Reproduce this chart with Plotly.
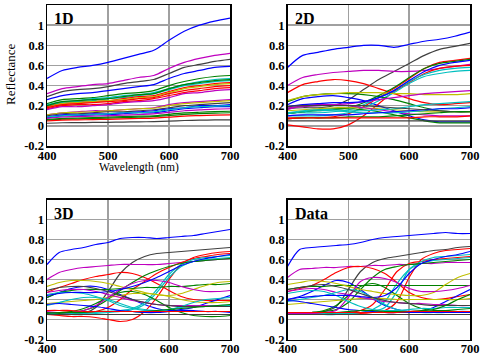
import plotly.graph_objects as go

# MATLAB classic colour order
B, G, R, C, M, Y, K = "#0000ff", "#008000", "#ff0000", "#00bfbf", "#bf00bf", "#bfbf00", "#404040"

# ---------------- 1D panel (25 nm grid) ----------------
wl_1d = [400, 425, 450, 475, 500, 525, 550, 575, 600, 625, 650, 675, 700]
colors_1d = [B, M, K, B, G, C, C, R, Y, R, R, M, M, Y, K, B, B, C, G, G, R, K, M, G]
refl_1d = [
    [0.47, 0.55, 0.58, 0.60, 0.63, 0.67, 0.71, 0.75, 0.85, 0.94, 1.00, 1.04, 1.07],
    [0.32, 0.37, 0.39, 0.41, 0.42, 0.45, 0.48, 0.50, 0.57, 0.63, 0.67, 0.70, 0.72],
    [0.29, 0.34, 0.36, 0.37, 0.39, 0.42, 0.44, 0.46, 0.52, 0.58, 0.61, 0.64, 0.66],
    [0.26, 0.30, 0.32, 0.33, 0.35, 0.37, 0.39, 0.41, 0.47, 0.52, 0.55, 0.58, 0.59],
    [0.22, 0.26, 0.27, 0.28, 0.30, 0.32, 0.33, 0.35, 0.40, 0.44, 0.47, 0.49, 0.50],
    [0.21, 0.24, 0.25, 0.27, 0.28, 0.30, 0.31, 0.33, 0.37, 0.41, 0.44, 0.46, 0.47],
    [0.20, 0.23, 0.24, 0.25, 0.27, 0.28, 0.30, 0.32, 0.36, 0.40, 0.42, 0.44, 0.45],
    [0.19, 0.22, 0.23, 0.24, 0.25, 0.27, 0.29, 0.30, 0.34, 0.38, 0.40, 0.42, 0.43],
    [0.18, 0.22, 0.23, 0.24, 0.25, 0.26, 0.28, 0.29, 0.33, 0.37, 0.39, 0.41, 0.42],
    [0.18, 0.21, 0.22, 0.23, 0.24, 0.25, 0.27, 0.28, 0.32, 0.35, 0.37, 0.39, 0.40],
    [0.17, 0.20, 0.21, 0.21, 0.22, 0.24, 0.25, 0.27, 0.30, 0.33, 0.35, 0.37, 0.38],
    [0.16, 0.19, 0.19, 0.20, 0.21, 0.23, 0.24, 0.25, 0.28, 0.32, 0.33, 0.35, 0.36],
    [0.11, 0.13, 0.14, 0.15, 0.15, 0.16, 0.17, 0.18, 0.21, 0.23, 0.24, 0.25, 0.26],
    [0.11, 0.13, 0.135, 0.14, 0.15, 0.16, 0.17, 0.175, 0.20, 0.22, 0.23, 0.24, 0.25],
    [0.10, 0.12, 0.12, 0.13, 0.14, 0.14, 0.15, 0.16, 0.18, 0.20, 0.21, 0.22, 0.23],
    [0.09, 0.11, 0.11, 0.12, 0.12, 0.13, 0.14, 0.15, 0.17, 0.18, 0.20, 0.20, 0.21],
    [0.08, 0.10, 0.10, 0.11, 0.11, 0.12, 0.13, 0.13, 0.15, 0.17, 0.18, 0.19, 0.19],
    [0.09, 0.10, 0.11, 0.11, 0.12, 0.13, 0.13, 0.14, 0.16, 0.18, 0.19, 0.195, 0.20],
    [0.064, 0.075, 0.078, 0.082, 0.086, 0.091, 0.096, 0.10, 0.115, 0.128, 0.135, 0.141, 0.145],
    [0.057, 0.067, 0.070, 0.073, 0.077, 0.082, 0.086, 0.091, 0.103, 0.114, 0.121, 0.127, 0.13],
    [0.048, 0.057, 0.059, 0.062, 0.065, 0.069, 0.073, 0.077, 0.087, 0.097, 0.102, 0.107, 0.11],
    [0.026, 0.031, 0.032, 0.034, 0.035, 0.038, 0.040, 0.042, 0.047, 0.053, 0.056, 0.059, 0.06],
    [0.075, 0.088, 0.092, 0.096, 0.10, 0.107, 0.113, 0.119, 0.134, 0.15, 0.158, 0.166, 0.17],
    [0.20, 0.24, 0.25, 0.26, 0.27, 0.29, 0.31, 0.32, 0.37, 0.41, 0.43, 0.45, 0.46],
]

# ---------------- 2D panel (25 nm grid) ----------------
wl_2d = [400, 425, 450, 475, 500, 525, 550, 575, 600, 625, 650, 675, 700]
colors_2d = [B, K, M, R, B, R, R, C, C, G, G, G, Y, Y, M, M, C, C, B, B, K, K, G, R]
refl_2d = [
    [0.58, 0.70, 0.73, 0.76, 0.78, 0.80, 0.80, 0.78, 0.81, 0.84, 0.86, 0.89, 0.93],
    [0.17, 0.18, 0.18, 0.20, 0.26, 0.36, 0.46, 0.54, 0.62, 0.70, 0.76, 0.79, 0.82],
    [0.40, 0.48, 0.51, 0.53, 0.54, 0.55, 0.55, 0.54, 0.54, 0.55, 0.57, 0.59, 0.61],
    [0.33, 0.41, 0.44, 0.46, 0.45, 0.42, 0.37, 0.32, 0.27, 0.23, 0.21, 0.22, 0.23],
    [0.21, 0.27, 0.29, 0.30, 0.28, 0.25, 0.20, 0.15, 0.10, 0.06, 0.04, 0.04, 0.04],
    [0.01, -0.01, -0.03, -0.03, 0.01, 0.10, 0.22, 0.34, 0.43, 0.52, 0.57, 0.59, 0.60],
    [0.08, 0.08, 0.08, 0.09, 0.12, 0.19, 0.28, 0.37, 0.47, 0.57, 0.63, 0.65, 0.67],
    [0.13, 0.13, 0.13, 0.14, 0.16, 0.21, 0.28, 0.35, 0.44, 0.51, 0.55, 0.57, 0.58],
    [0.10, 0.10, 0.10, 0.11, 0.13, 0.18, 0.25, 0.33, 0.42, 0.49, 0.52, 0.54, 0.55],
    [0.12, 0.14, 0.15, 0.16, 0.18, 0.23, 0.30, 0.38, 0.48, 0.57, 0.62, 0.64, 0.66],
    [0.12, 0.14, 0.16, 0.17, 0.17, 0.16, 0.14, 0.11, 0.08, 0.05, 0.03, 0.03, 0.03],
    [0.24, 0.29, 0.31, 0.32, 0.32, 0.31, 0.29, 0.26, 0.22, 0.18, 0.15, 0.14, 0.14],
    [0.25, 0.29, 0.31, 0.32, 0.33, 0.33, 0.33, 0.32, 0.32, 0.31, 0.31, 0.31, 0.32],
    [0.15, 0.16, 0.17, 0.18, 0.18, 0.18, 0.17, 0.16, 0.15, 0.14, 0.14, 0.14, 0.14],
    [0.18, 0.19, 0.20, 0.21, 0.22, 0.24, 0.26, 0.28, 0.30, 0.32, 0.33, 0.34, 0.35],
    [0.16, 0.20, 0.21, 0.21, 0.20, 0.18, 0.16, 0.14, 0.12, 0.11, 0.10, 0.10, 0.10],
    [0.13, 0.15, 0.16, 0.16, 0.15, 0.15, 0.16, 0.17, 0.19, 0.21, 0.22, 0.23, 0.24],
    [0.12, 0.14, 0.15, 0.15, 0.14, 0.13, 0.13, 0.13, 0.14, 0.15, 0.17, 0.18, 0.19],
    [0.19, 0.21, 0.22, 0.23, 0.23, 0.24, 0.28, 0.35, 0.45, 0.54, 0.60, 0.63, 0.65],
    [0.10, 0.11, 0.11, 0.11, 0.11, 0.12, 0.13, 0.14, 0.15, 0.16, 0.17, 0.17, 0.18],
    [0.19, 0.20, 0.20, 0.20, 0.20, 0.20, 0.19, 0.18, 0.17, 0.16, 0.15, 0.14, 0.14],
    [0.05, 0.05, 0.05, 0.05, 0.05, 0.05, 0.05, 0.05, 0.05, 0.05, 0.05, 0.05, 0.05],
    [0.07, 0.08, 0.08, 0.08, 0.09, 0.09, 0.09, 0.10, 0.11, 0.12, 0.13, 0.14, 0.14],
    [0.07, 0.08, 0.08, 0.08, 0.08, 0.08, 0.08, 0.08, 0.08, 0.09, 0.09, 0.09, 0.10],
]

# ---------------- 3D panel (20 nm grid) ----------------
wl_3d = [400, 420, 440, 460, 480, 500, 520, 540, 560, 580, 600, 620, 640, 660, 680, 700]
colors_3d = [B, K, M, R, B, R, R, C, C, G, G, G, Y, Y, M, M, C, C, B, B, K, K, G, R]
refl_3d = [
    [0.55, 0.67, 0.70, 0.72, 0.75, 0.77, 0.81, 0.82, 0.82, 0.81, 0.82, 0.83, 0.84, 0.86, 0.88, 0.90],
    [0.05, 0.05, 0.05, 0.06, 0.12, 0.28, 0.46, 0.57, 0.63, 0.66, 0.67, 0.68, 0.69, 0.70, 0.71, 0.72],
    [0.40, 0.47, 0.50, 0.52, 0.53, 0.54, 0.55, 0.55, 0.55, 0.55, 0.56, 0.57, 0.58, 0.59, 0.60, 0.61],
    [0.27, 0.32, 0.36, 0.40, 0.43, 0.45, 0.47, 0.46, 0.42, 0.36, 0.29, 0.23, 0.20, 0.19, 0.19, 0.19],
    [0.22, 0.27, 0.31, 0.33, 0.33, 0.30, 0.25, 0.20, 0.15, 0.11, 0.09, 0.10, 0.12, 0.16, 0.20, 0.24],
    [0.05, 0.04, 0.03, 0.03, 0.02, 0.00, -0.02, 0.00, 0.08, 0.22, 0.40, 0.55, 0.62, 0.65, 0.67, 0.68],
    [0.09, 0.09, 0.08, 0.07, 0.08, 0.12, 0.20, 0.30, 0.38, 0.46, 0.52, 0.57, 0.61, 0.63, 0.65, 0.66],
    [0.06, 0.06, 0.06, 0.06, 0.07, 0.08, 0.09, 0.11, 0.17, 0.30, 0.45, 0.55, 0.60, 0.62, 0.63, 0.64],
    [0.05, 0.05, 0.05, 0.05, 0.06, 0.07, 0.08, 0.10, 0.15, 0.27, 0.42, 0.53, 0.58, 0.60, 0.61, 0.62],
    [0.07, 0.07, 0.07, 0.09, 0.13, 0.20, 0.29, 0.37, 0.44, 0.49, 0.53, 0.56, 0.58, 0.59, 0.60, 0.61],
    [0.05, 0.06, 0.08, 0.11, 0.16, 0.22, 0.27, 0.28, 0.25, 0.19, 0.12, 0.07, 0.04, 0.03, 0.03, 0.04],
    [0.22, 0.27, 0.29, 0.30, 0.30, 0.30, 0.31, 0.31, 0.32, 0.32, 0.33, 0.33, 0.34, 0.35, 0.35, 0.36],
    [0.33, 0.37, 0.39, 0.39, 0.38, 0.36, 0.33, 0.30, 0.27, 0.25, 0.24, 0.26, 0.30, 0.34, 0.37, 0.38],
    [0.16, 0.17, 0.18, 0.19, 0.20, 0.22, 0.24, 0.26, 0.26, 0.25, 0.23, 0.20, 0.18, 0.17, 0.17, 0.18],
    [0.08, 0.07, 0.07, 0.09, 0.14, 0.22, 0.30, 0.36, 0.39, 0.39, 0.37, 0.33, 0.30, 0.28, 0.28, 0.29],
    [0.27, 0.29, 0.30, 0.30, 0.28, 0.25, 0.22, 0.19, 0.17, 0.15, 0.14, 0.14, 0.14, 0.14, 0.14, 0.14],
    [0.25, 0.27, 0.27, 0.26, 0.23, 0.19, 0.14, 0.11, 0.09, 0.09, 0.10, 0.12, 0.13, 0.13, 0.14, 0.14],
    [0.14, 0.17, 0.20, 0.22, 0.22, 0.20, 0.16, 0.12, 0.10, 0.09, 0.10, 0.13, 0.17, 0.20, 0.21, 0.22],
    [0.24, 0.26, 0.27, 0.27, 0.27, 0.28, 0.30, 0.33, 0.37, 0.42, 0.48, 0.54, 0.58, 0.61, 0.63, 0.65],
    [0.15, 0.16, 0.15, 0.14, 0.13, 0.11, 0.09, 0.08, 0.07, 0.07, 0.08, 0.09, 0.09, 0.08, 0.08, 0.07],
    [0.29, 0.32, 0.33, 0.33, 0.31, 0.28, 0.24, 0.20, 0.17, 0.15, 0.14, 0.13, 0.13, 0.13, 0.13, 0.13],
    [0.05, 0.05, 0.05, 0.05, 0.05, 0.05, 0.05, 0.05, 0.05, 0.05, 0.05, 0.05, 0.05, 0.05, 0.05, 0.05],
    [0.06, 0.07, 0.07, 0.07, 0.08, 0.08, 0.08, 0.08, 0.08, 0.09, 0.10, 0.11, 0.12, 0.13, 0.14, 0.15],
    [0.09, 0.09, 0.09, 0.08, 0.08, 0.08, 0.08, 0.08, 0.08, 0.08, 0.08, 0.08, 0.08, 0.08, 0.08, 0.08],
]

# ---------------- Data panel (20 nm grid) ----------------
wl_data = [400, 420, 440, 460, 480, 500, 520, 540, 560, 580, 600, 620, 640, 660, 680, 700]
colors_data = [B, K, M, R, B, R, R, C, C, G, G, G, Y, Y, M, M, C, C, B, B, K, K, G, R]
refl_data = [
    [0.53, 0.70, 0.72, 0.73, 0.74, 0.75, 0.77, 0.80, 0.82, 0.83, 0.84, 0.85, 0.86, 0.87, 0.86, 0.86],
    [0.07, 0.07, 0.07, 0.08, 0.13, 0.30, 0.48, 0.57, 0.61, 0.63, 0.65, 0.67, 0.69, 0.70, 0.72, 0.73],
    [0.42, 0.50, 0.51, 0.52, 0.52, 0.53, 0.53, 0.54, 0.54, 0.55, 0.55, 0.56, 0.56, 0.57, 0.57, 0.57],
    [0.28, 0.31, 0.34, 0.40, 0.47, 0.52, 0.53, 0.51, 0.46, 0.37, 0.27, 0.22, 0.20, 0.21, 0.23, 0.25],
    [0.20, 0.23, 0.28, 0.34, 0.39, 0.37, 0.30, 0.21, 0.14, 0.10, 0.08, 0.08, 0.12, 0.18, 0.24, 0.30],
    [0.07, 0.06, 0.06, 0.06, 0.06, 0.06, 0.06, 0.07, 0.09, 0.18, 0.42, 0.60, 0.66, 0.69, 0.70, 0.71],
    [0.06, 0.06, 0.06, 0.06, 0.06, 0.07, 0.09, 0.15, 0.30, 0.48, 0.56, 0.58, 0.60, 0.61, 0.62, 0.63],
    [0.06, 0.06, 0.06, 0.06, 0.06, 0.06, 0.07, 0.08, 0.12, 0.28, 0.50, 0.58, 0.62, 0.63, 0.64, 0.65],
    [0.05, 0.05, 0.05, 0.05, 0.05, 0.06, 0.07, 0.10, 0.18, 0.36, 0.50, 0.56, 0.59, 0.60, 0.61, 0.62],
    [0.07, 0.07, 0.07, 0.08, 0.10, 0.17, 0.30, 0.42, 0.50, 0.53, 0.55, 0.56, 0.57, 0.58, 0.59, 0.60],
    [0.06, 0.06, 0.07, 0.09, 0.14, 0.24, 0.33, 0.36, 0.32, 0.24, 0.16, 0.11, 0.09, 0.09, 0.10, 0.11],
    [0.30, 0.32, 0.33, 0.33, 0.34, 0.34, 0.34, 0.34, 0.34, 0.34, 0.34, 0.34, 0.34, 0.34, 0.34, 0.34],
    [0.35, 0.37, 0.39, 0.38, 0.36, 0.33, 0.30, 0.28, 0.26, 0.25, 0.24, 0.24, 0.27, 0.35, 0.42, 0.46],
    [0.15, 0.16, 0.17, 0.18, 0.19, 0.20, 0.21, 0.21, 0.21, 0.20, 0.20, 0.20, 0.20, 0.20, 0.20, 0.21],
    [0.06, 0.06, 0.06, 0.07, 0.09, 0.22, 0.38, 0.42, 0.41, 0.37, 0.31, 0.28, 0.28, 0.29, 0.31, 0.34],
    [0.28, 0.30, 0.31, 0.30, 0.27, 0.25, 0.22, 0.20, 0.18, 0.17, 0.16, 0.16, 0.15, 0.15, 0.14, 0.14],
    [0.26, 0.28, 0.29, 0.28, 0.24, 0.18, 0.13, 0.10, 0.09, 0.09, 0.10, 0.11, 0.11, 0.12, 0.12, 0.12],
    [0.18, 0.20, 0.22, 0.24, 0.27, 0.30, 0.28, 0.22, 0.15, 0.10, 0.08, 0.07, 0.07, 0.07, 0.08, 0.08],
    [0.20, 0.22, 0.23, 0.24, 0.24, 0.24, 0.23, 0.22, 0.24, 0.32, 0.46, 0.56, 0.60, 0.63, 0.65, 0.68],
    [0.19, 0.18, 0.16, 0.14, 0.12, 0.10, 0.09, 0.08, 0.07, 0.07, 0.07, 0.07, 0.07, 0.07, 0.07, 0.07],
    [0.30, 0.32, 0.34, 0.35, 0.33, 0.30, 0.26, 0.22, 0.19, 0.17, 0.16, 0.15, 0.14, 0.14, 0.14, 0.14],
    [0.05, 0.05, 0.05, 0.05, 0.05, 0.05, 0.05, 0.05, 0.05, 0.05, 0.05, 0.05, 0.05, 0.05, 0.05, 0.05],
    [0.07, 0.07, 0.07, 0.07, 0.07, 0.08, 0.09, 0.09, 0.08, 0.08, 0.08, 0.09, 0.10, 0.14, 0.20, 0.25],
    [0.07, 0.07, 0.07, 0.07, 0.07, 0.07, 0.07, 0.07, 0.07, 0.07, 0.08, 0.08, 0.08, 0.08, 0.08, 0.08],
]

panel_titles = ["1D", "2D", "3D", "Data"]
x_ticks = [400, 500, 600, 700]
y_ticks = [-0.2, 0, 0.2, 0.4, 0.6, 0.8, 1]
y_ticktext = ["-0.2", "0", "0.2", "0.4", "0.6", "0.8", "1"]

panels = [
    (wl_1d, colors_1d, refl_1d),
    (wl_2d, colors_2d, refl_2d),
    (wl_3d, colors_3d, refl_3d),
    (wl_data, colors_data, refl_data),
]

W, H = 480, 356
# pixel boxes of each axes: (left, right, top, bottom)
boxes = [(47, 230, 5, 146), (287.5, 470, 5, 146), (47, 230, 199.5, 339.5), (287.5, 470, 199.5, 339.5)]

SERIF = "Liberation Serif, Times New Roman, serif"
fig = go.Figure()
layout = dict(
    width=W, height=H, autosize=False,
    margin=dict(l=0, r=0, t=0, b=0, pad=0, autoexpand=False),
    paper_bgcolor="white", plot_bgcolor="white", showlegend=False,
    font=dict(family=SERIF, color="black", size=12),
)

for i, ((wl, cols, data), (l, r, t, b)) in enumerate(zip(panels, boxes)):
    xa = "xaxis" + ("" if i == 0 else str(i + 1))
    ya = "yaxis" + ("" if i == 0 else str(i + 1))
    xref = "x" + ("" if i == 0 else str(i + 1))
    yref = "y" + ("" if i == 0 else str(i + 1))
    for col, vals in zip(cols, data):
        fig.add_trace(go.Scatter(
            x=wl, y=vals, mode="lines", xaxis=xref, yaxis=yref,
            line=dict(color=col, width=1.2, shape="spline", smoothing=0.8),
            hoverinfo="skip",
        ))
    layout[xa] = dict(
        domain=[l / W, r / W], anchor=yref, range=[400, 700], automargin=False,
        tickvals=x_ticks, ticktext=[str(v) for v in x_ticks],
        showgrid=True, gridcolor="#a0a0a0", gridwidth=1.5,
        showline=True, linecolor="black", linewidth=1.5, mirror=True,
        ticks="", zeroline=False, ticklabelstandoff=-3,
        tickfont=dict(family=SERIF, size=12.5, weight="bold"),
    )
    layout[ya] = dict(
        domain=[1 - b / H, 1 - t / H], anchor=xref, range=[-0.2, 1.2], automargin=False,
        tickvals=y_ticks, ticktext=y_ticktext,
        showgrid=True, gridcolor="#a0a0a0", gridwidth=1.5,
        showline=True, linecolor="black", linewidth=1.5, mirror=True,
        ticks="", zeroline=False, ticklabelstandoff=-1,
        tickfont=dict(family=SERIF, size=12.5, weight="bold"),
    )

annotations = []
for i, ((l, r, t, b), title) in enumerate(zip(boxes, panel_titles)):
    annotations.append(dict(
        text="<b>" + title + "</b>", x=(l + 5) / W, y=1 - (t + 14) / H,
        xref="paper", yref="paper", xanchor="left", yanchor="middle",
        showarrow=False, font=dict(family=SERIF, size=16, color="black"),
    ))
annotations.append(dict(
    text="Reflectance", x=11 / W, y=1 - 74 / H, xref="paper", yref="paper",
    xanchor="center", yanchor="middle", textangle=-90, showarrow=False,
    font=dict(family=SERIF, size=13, color="black"),
))
annotations.append(dict(
    text="Wavelength (nm)", x=139 / W, y=1 - 167 / H, xref="paper", yref="paper",
    xanchor="center", yanchor="middle", showarrow=False,
    font=dict(family=SERIF, size=11.5, color="black"),
))
layout["annotations"] = annotations
fig.update_layout(**layout)
fig.write_html(
    "out.html",
    config={"displayModeBar": False, "staticPlot": True},
    post_script="document.body.style.margin='0';document.body.style.overflow='hidden';",
)
